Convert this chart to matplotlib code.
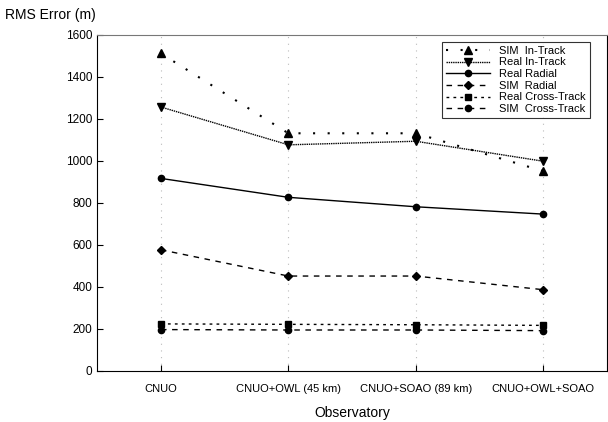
import numpy as np
import matplotlib.pyplot as plt

plt.rcParams['font.family'] = ['Liberation Sans', 'DejaVu Sans']

# observatories and RMS error values (m)
observatories = ['CNUO', 'CNUO+OWL (45 km)', 'CNUO+SOAO (89 km)', 'CNUO+OWL+SOAO']
sim_in_track = [1510, 1130, 1130, 950]
real_in_track = [1255, 1075, 1092, 997]
real_radial = [915, 825, 780, 745]
sim_radial = [575, 450, 450, 385]
real_cross_track = [222, 220, 218, 215]
sim_cross_track = [195, 193, 193, 190]

x = np.arange(1, len(observatories) + 1)

fig = plt.figure(figsize=(6.08, 4.22), dpi=100)
ax = fig.add_axes([0.16, 0.122, 0.838, 0.796])

ax.plot(x, sim_in_track, color='black', linestyle=(0, (1, 6)), linewidth=1.5,
        marker='^', markersize=5.5, label='SIM  In-Track')
ax.plot(x, real_in_track, color='black', linestyle=(0, (1, 0.6)), linewidth=1,
        marker='v', markersize=5.5, label='Real In-Track')
ax.plot(x, real_radial, color='black', linestyle='-', linewidth=1,
        marker='o', markersize=4.5, label='Real Radial')
ax.plot(x, sim_radial, color='black', linestyle=(0, (4, 4)), linewidth=1,
        marker='D', markersize=4, label='SIM  Radial')
ax.plot(x, real_cross_track, color='black', linestyle=(0, (2, 3)), linewidth=1,
        marker='s', markersize=4.5, label='Real Cross-Track')
ax.plot(x, sim_cross_track, color='black', linestyle=(0, (4, 4)), linewidth=1,
        marker='o', markersize=4.5, label='SIM  Cross-Track')

ax.set_xlim(0.5, 4.5)
ax.set_ylim(0, 1600)
ax.set_yticks(range(0, 1601, 200))
ax.set_xticks(x)
ax.set_xticklabels(observatories, fontsize=8)
ax.tick_params(axis='y', labelsize=8.5, direction='in', length=4)
ax.tick_params(axis='x', direction='in', length=4, pad=10)
ax.grid(axis='x', color='#bbbbbb', linestyle=(0, (1, 5)), linewidth=0.8)

ax.spines['top'].set_color('#777777')
ax.set_xlabel('Observatory', fontsize=10, labelpad=8)
fig.text(0.008, 0.965, 'RMS Error (m)', fontsize=10, ha='left', va='center')

leg = ax.legend(loc='upper right', fontsize=8, fancybox=False, edgecolor='black',
                handlelength=4, borderpad=0.35, labelspacing=0.15,
                bbox_to_anchor=(0.977, 0.995))
leg.get_frame().set_linewidth(0.8)

plt.savefig('out.png', dpi=100)
